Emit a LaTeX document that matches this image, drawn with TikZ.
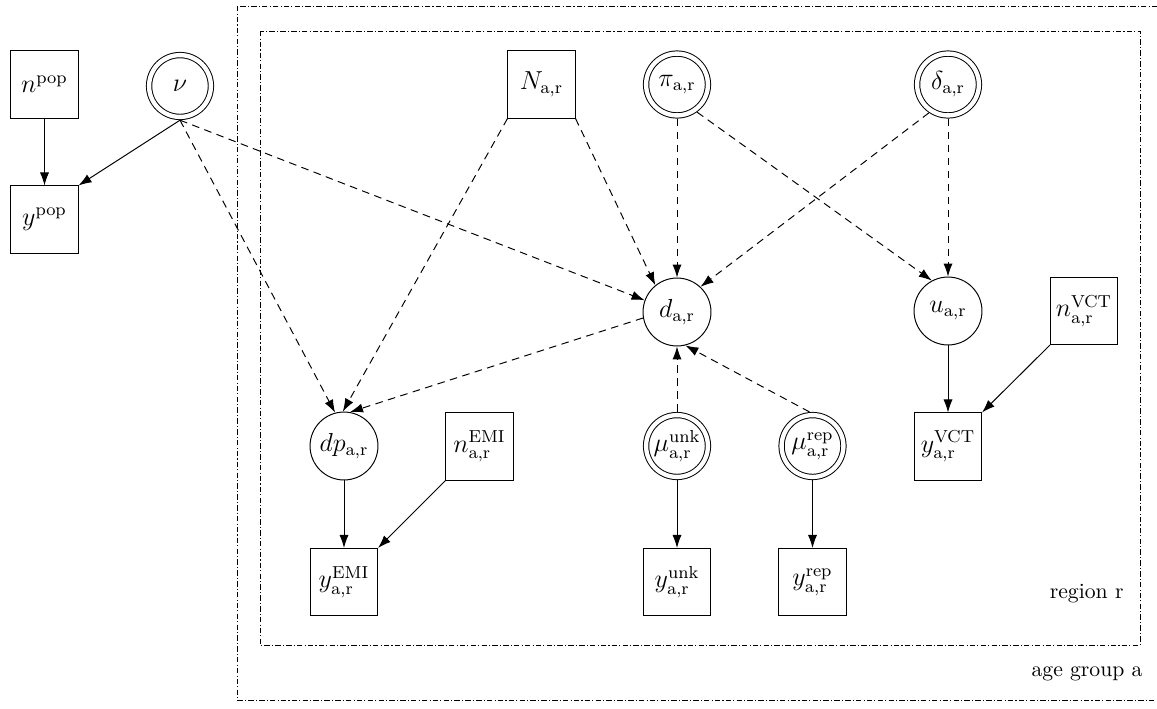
\documentclass[tikz,border=0pt]{standalone}
\usetikzlibrary{arrows.meta}
\begin{document}
\begin{tikzpicture}[x=0.4608pt,y=-0.4608pt,line width=0.45pt,
 lat/.style={circle,draw,minimum size=31.3pt,inner sep=0pt,font=\large},
 par/.style={circle,draw,double,double distance=2.0pt,minimum size=28.5pt,inner sep=0pt,outer sep=1.5pt,font=\large},
 obs/.style={rectangle,draw,minimum size=30.9pt,inner sep=0pt,font=\large},
 solidarrow/.style={-{Latex[length=6pt,width=4.2pt]}},
 dasharrow/.style={solidarrow,dash pattern=on 3.5pt off 2.5pt},
 plate/.style={line width=0.45pt,dash pattern=on 2.5pt off 1pt on 0.5pt off 1pt},
 platelabel/.style={inner sep=0pt,anchor=base east}]
\clip (0,0) rectangle (1157,708);
% plates
\draw[plate] (237,6) rectangle (1175,700);
\draw[plate] (260,31) rectangle (1140,645);
\node[platelabel] (lr) at (1124,598) {region r};
\node[platelabel] (la) at (1143,676) {age group a};
% nodes
\node[obs] (npop) at (44.5,84.5) {$n^{\mathrm{pop}}$};
\node[obs] (ypop) at (44.5,219.5) {$y^{\mathrm{pop}}$};
\node[par] (nu) at (180,86) {$\nu$};
\node[obs] (N) at (541.5,84.5) {$N_{\mathrm{a,r}}$};
\node[par] (pi) at (677,84.5) {$\pi_{\mathrm{a,r}}$};
\node[par] (delta) at (948,84.5) {$\delta_{\mathrm{a,r}}$};
\node[lat] (d) at (677,312) {$d_{\mathrm{a,r}}$};
\node[lat] (u) at (948,311) {$u_{\mathrm{a,r}}$};
\node[obs] (nvct) at (1084,311) {$n^{\mathrm{VCT}}_{\mathrm{a,r}}$};
\node[obs] (yvct) at (948,446.5) {$y^{\mathrm{VCT}}_{\mathrm{a,r}}$};
\node[lat] (dp) at (344,446) {$dp_{\mathrm{a,r}}$};
\node[obs] (nemi) at (479.5,446.5) {$n^{\mathrm{EMI}}_{\mathrm{a,r}}$};
\node[obs] (yemi) at (344,582) {$y^{\mathrm{EMI}}_{\mathrm{a,r}}$};
\node[par] (munk) at (677,446) {$\mu^{\mathrm{unk}}_{\mathrm{a,r}}$};
\node[par] (mrep) at (812.5,446) {$\mu^{\mathrm{rep}}_{\mathrm{a,r}}$};
\node[obs] (yunk) at (677,582) {$y^{\mathrm{unk}}_{\mathrm{a,r}}$};
\node[obs] (yrep) at (812.5,582) {$y^{\mathrm{rep}}_{\mathrm{a,r}}$};
% edges
\draw[solidarrow] (npop) -- (ypop);
\draw[solidarrow] (nu.south) -- (ypop.north east);
\draw[dasharrow] (nu.south) -- (dp.105);
\draw[dasharrow] (nu.south) -- (d.160);
\draw[dasharrow] (N.south west) -- (dp.92);
\draw[dasharrow] (N.south east) -- (d.129);
\draw[dasharrow] (pi) -- (d);
\draw[dasharrow] (pi.-54) -- (u.118);
\draw[dasharrow] (delta.-124) -- (d.47);
\draw[dasharrow] (delta) -- (u);
\draw[dasharrow] (d.190) -- (dp.80);
\draw[dasharrow] (munk) -- (d);
\draw[dasharrow] (mrep.95) -- (d.-76);
\draw[solidarrow] (u) -- (yvct);
\draw[solidarrow] (nvct.south west) -- (yvct.north east);
\draw[solidarrow] (dp) -- (yemi);
\draw[solidarrow] (nemi.south west) -- (yemi.north east);
\draw[solidarrow] (munk) -- (yunk);
\draw[solidarrow] (mrep) -- (yrep);
\end{tikzpicture}
\end{document}
